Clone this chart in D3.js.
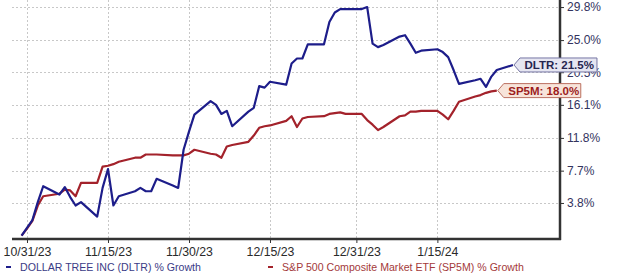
<!DOCTYPE html>
<html>
<head>
<meta charset="utf-8">
<script src="https://cdn.jsdelivr.net/npm/d3@7"></script>
<style>
  body { margin: 0; background: #fff; }
  svg { display: block; font-family: "Liberation Sans", Arial, sans-serif; }
</style>
</head>
<body>
<script>
// === DATA (percent growth since 10/30/23) ===
const dates = [
  "2023-10-30","2023-10-31","2023-11-01","2023-11-02","2023-11-03",
  "2023-11-06","2023-11-07","2023-11-08","2023-11-09","2023-11-10",
  "2023-11-13","2023-11-14","2023-11-15","2023-11-16","2023-11-17",
  "2023-11-20","2023-11-21","2023-11-22","2023-11-23","2023-11-24",
  "2023-11-27","2023-11-28","2023-11-29","2023-11-30","2023-12-01",
  "2023-12-04","2023-12-05","2023-12-06","2023-12-07","2023-12-08",
  "2023-12-11","2023-12-12","2023-12-13","2023-12-14","2023-12-15",
  "2023-12-18","2023-12-19","2023-12-20","2023-12-21","2023-12-22",
  "2023-12-25","2023-12-26","2023-12-27","2023-12-28","2023-12-29",
  "2024-01-01","2024-01-02","2024-01-03","2024-01-04","2024-01-05",
  "2024-01-08","2024-01-09","2024-01-10","2024-01-11","2024-01-12",
  "2024-01-15","2024-01-16","2024-01-17","2024-01-18","2024-01-19",
  "2024-01-22","2024-01-23","2024-01-24","2024-01-25","2024-01-26",
  "2024-01-29"
];

const dltrGrowth = [
  0, 0.9, 1.8, 3.9, 5.8,
  4.8, 5.7, 4.5, 3.5, 3.9,
  2.2, 5.6, 7.9, 3.5, 4.6,
  5.2, 5.6, 5.2, 5.2, 6.7,
  5.9, 5.6, 10.3, 12.6, 14.8,
  16.6, 16.1, 14.9, 15.3, 13.3,
  15.2, 15.7, 18.6, 18.4, 19.2,
  18.8, 21.7, 22.4, 22.4, 24.4,
  24.4, 27.6, 29.0, 29.5, 29.5,
  29.5, 29.8, 24.5, 24.0, 24.3,
  25.5, 25.7, 24.5, 23.2, 23.5,
  23.7, 23.3, 22.6, 20.8, 18.9,
  19.4, 19.6, 18.5, 19.9, 20.8,
  21.5
];

const sp5mGrowth = [
  0, 0.8, 1.7, 3.5, 4.6,
  4.9, 5.4, 5.3, 4.6, 6.2,
  6.2, 8.2, 8.3, 8.5, 8.8,
  9.3, 9.3, 9.7, 9.7, 9.7,
  9.6, 9.6, 9.6, 9.8, 10.3,
  9.8, 9.7, 9.3, 10.7, 10.9,
  11.3, 12.1, 13.1, 13.3, 13.4,
  14.0, 14.6, 13.2, 14.3, 14.5,
  14.6, 14.9, 15.0, 15.1, 14.9,
  14.9, 14.1, 13.5, 12.8, 13.2,
  14.6, 14.7, 15.2, 15.2, 15.3,
  15.3, 14.8, 14.2, 15.3, 16.5,
  17.2, 17.4, 17.7, 17.9, 18.0
];

const yTickValues = [3.8, 7.7, 11.8, 16.1, 20.5, 25.0, 29.8];
const yTickLabels = ["3.8%", "7.7%", "11.8%", "16.1%", "20.5%", "25.0%", "29.8%"];
const xTickDates = ["2023-10-31", "2023-11-15", "2023-11-30", "2023-12-15", "2023-12-31", "2024-01-15"];
const xTickLabels = ["10/31/23", "11/15/23", "11/30/23", "12/15/23", "12/31/23", "1/15/24"];

const seriesNames = ["DOLLAR TREE INC (DLTR) % Growth", "S&P 500 Composite Market ETF (SP5M) % Growth"];
const seriesTags = ["DLTR", "SP5M"];

// === LAYOUT ===
const W = 620, H = 277;
const margin = { top: 0, right: 60, bottom: 38, left: 12 };
const plotW = W - margin.left - margin.right;
const plotH = H - margin.top - margin.bottom;

const blue = "#1d1d8a";
const red = "#a3222b";

const parse = d3.utcParse("%Y-%m-%d");

const x = d3.scaleUtc()
  .domain([new Date(Date.UTC(2023, 9, 28, 5, 20)), new Date(Date.UTC(2024, 1, 6, 17, 0))])
  .range([0, plotW]);

// log scale on (1 + growth) — ticks are evenly spaced
const y = d3.scaleLog()
  .domain([0.9962, 1.3085])
  .range([plotH, 0]);
const yv = v => y(1 + v / 100);

const svg = d3.select("body").append("svg")
  .attr("width", W)
  .attr("height", H);

const g = svg.append("g").attr("transform", `translate(${margin.left},${margin.top})`);

// grid
g.append("g")
  .selectAll("line")
  .data(yTickValues)
  .join("line")
  .attr("x1", 0).attr("x2", plotW)
  .attr("y1", d => Math.round(yv(d)) + 0.5)
  .attr("y2", d => Math.round(yv(d)) + 0.5)
  .attr("stroke", "#c8c8c8")
  .attr("stroke-dasharray", "2,2");

g.append("g")
  .selectAll("line")
  .data(xTickDates)
  .join("line")
  .attr("x1", d => Math.round(x(parse(d))) + 0.5)
  .attr("x2", d => Math.round(x(parse(d))) + 0.5)
  .attr("y1", 0).attr("y2", plotH)
  .attr("stroke", "#c8c8c8")
  .attr("stroke-dasharray", "2,2");

// lines
const series = [
  { tag: seriesTags[0], color: blue, values: dltrGrowth },
  { tag: seriesTags[1], color: red, values: sp5mGrowth }
];
series.forEach(s => {
  s.points = s.values.map((v, i) => ({ date: parse(dates[i]), value: v }));
});

const line = d3.line()
  .x(d => x(d.date))
  .y(d => yv(d.value));

// draw SP5M first so DLTR sits on top
[series[1], series[0]].forEach(s => {
  g.append("path")
    .datum(s.points)
    .attr("fill", "none")
    .attr("stroke", s.color)
    .attr("stroke-width", 2.2)
    .attr("stroke-linejoin", "round")
    .attr("d", line);
});

// axes (bottom + right, thick frame)
const xAxis = g.append("g")
  .attr("transform", `translate(0,${plotH})`)
  .call(d3.axisBottom(x)
    .tickValues(xTickDates.map(parse))
    .tickSize(4)
    .tickFormat((d, i) => xTickLabels[i]));
xAxis.select(".domain").attr("stroke", "#333").attr("stroke-width", 2.5).attr("d", `M0,0H${plotW + 1}`);
xAxis.selectAll(".tick line").attr("stroke", "#333");
xAxis.selectAll(".tick text")
  .attr("dy", "0.71em").attr("y", 8)
  .style("font-size", "12.3px").attr("fill", "#2a2a2a");

const yAxis = g.append("g")
  .attr("transform", `translate(${plotW},0)`)
  .call(d3.axisRight(y)
    .tickValues(yTickValues.map(v => 1 + v / 100))
    .tickSize(4)
    .tickFormat((d, i) => yTickLabels[i]));
yAxis.select(".domain").attr("stroke", "#333").attr("stroke-width", 2.5).attr("d", `M0,0V${plotH + 1}`);
yAxis.selectAll(".tick line").attr("stroke", "#333");
yAxis.selectAll(".tick text")
  .attr("x", 7)
  .style("font-size", "12px").attr("fill", "#33335e");

// end labels
const tagStyles = [
  { fill: "#e6e6f1", stroke: "#7676a4", text: "#25254f" },
  { fill: "#f7e4da", stroke: "#bb7060", text: "#9c1d1d" }
];
series.forEach((s, i) => {
  const last = s.points[s.points.length - 1];
  const tx = x(last.date) + 1;
  const ty = yv(last.value);
  const bw = 83, bh = 14, pt = 6;
  const st = tagStyles[i];
  g.append("path")
    .attr("d", `M${tx},${ty} L${tx + pt},${ty - bh / 2} H${tx + bw} V${ty + bh / 2} H${tx + pt} Z`)
    .attr("fill", st.fill)
    .attr("stroke", st.stroke)
    .attr("stroke-width", 1);
  g.append("text")
    .attr("x", tx + 10.5)
    .attr("y", ty + 4)
    .attr("fill", st.text)
    .style("font-size", "11.5px")
    .style("font-weight", "bold")
    .text(`${s.tag}: ${last.value.toFixed(1)}%`);
});

// legend
const legend = svg.append("g").attr("transform", "translate(0,271)");
const legendX = [6, 268];
series.forEach((s, i) => {
  legend.append("rect")
    .attr("x", legendX[i]).attr("y", -5)
    .attr("width", 5).attr("height", 2)
    .attr("fill", s.color);
  legend.append("text")
    .attr("x", legendX[i] + 14)
    .attr("y", 0)
    .attr("fill", i === 0 ? "#3b3b86" : "#a43a3a")
    .style("font-size", "10.6px")
    .text(seriesNames[i]);
});
</script>
</body>
</html>
